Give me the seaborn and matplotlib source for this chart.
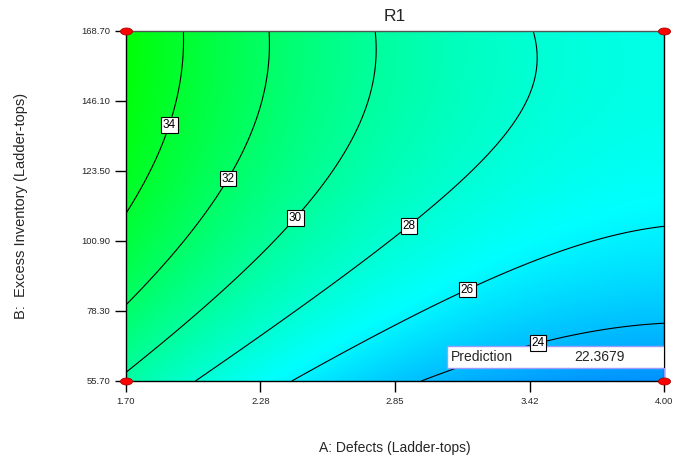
import matplotlib
matplotlib.use("Agg")
import matplotlib.pyplot as plt
import seaborn as sns
import numpy as np
import pandas as pd
from matplotlib.colors import LinearSegmentedColormap
from matplotlib.path import Path
from matplotlib.patches import Rectangle

# Quadratic response model for R1 in coded units
# terms: intercept, A, B, AB, A^2, B^2
coef_names = ["intercept", "A", "B", "AB", "A2", "B2"]
coef_values = [28.5161, -3.9109, 2.6710, -0.2402, 1.6972, -1.5028]

# Factor ranges
a_low, a_high = 1.70, 4.00
b_low, b_high = 55.70, 168.70

# Ticks and labels
a_ticks = [1.70, 2.275, 2.85, 3.425, 4.00]
a_tick_labels = ["1.70", "2.28", "2.85", "3.42", "4.00"]
b_ticks = [55.70, 78.30, 100.90, 123.50, 146.10, 168.70]
b_tick_labels = ["55.70", "78.30", "100.90", "123.50", "146.10", "168.70"]

# Contour levels and where their labels sit
levels = [24, 26, 28, 30, 32, 34]
label_a = [3.453, 3.154, 2.906, 2.418, 2.132, 1.875]
label_b = [70.3, 86.05, 106.1, 108.65, 121.2, 138.7]

# Design points (corners) and the prediction flag
design_a = [1.70, 4.00, 1.70, 4.00]
design_b = [55.70, 55.70, 168.70, 168.70]
pred_a, pred_b, pred_value = 4.00, 55.70, "22.3679"

# Evaluate the model on a grid
coef = dict(zip(coef_names, coef_values))
A = np.linspace(a_low, a_high, 300)
B = np.linspace(b_low, b_high, 300)
AA, BB = np.meshgrid(A, B)
ca = (AA - (a_low + a_high) / 2) / ((a_high - a_low) / 2)
cb = (BB - (b_low + b_high) / 2) / ((b_high - b_low) / 2)
Z = (coef["intercept"] + coef["A"] * ca + coef["B"] * cb + coef["AB"] * ca * cb
     + coef["A2"] * ca ** 2 + coef["B2"] * cb ** 2)

sns.set_theme(style="white")
plt.rcParams['font.family'] = ['Liberation Sans', 'DejaVu Sans']

fig = plt.figure(figsize=(6.85, 4.59), dpi=100)
ax = fig.add_axes([126/685, 78/459, 538/685, 350/459])

# Design-Expert like colour ramp: blue -> cyan -> green
cmap = LinearSegmentedColormap.from_list("de", ["#0000ff", "#00ffff", "#00ff00"])
ax.pcolormesh(AA, BB, Z, cmap=cmap, vmin=17, vmax=35.8, shading="gouraud", zorder=0)
cs = ax.contour(AA, BB, Z, levels=levels, colors="black", linewidths=0.8, zorder=1)
texts = ax.clabel(cs, levels=levels, fmt="%d", fontsize=8.5, inline=True, inline_spacing=2,
                  manual=list(zip(label_a, label_b)))
for t in texts:
    t.set_rotation(0)
    t.set_zorder(7)
    t.set_bbox(dict(boxstyle="square,pad=0.15", fc="white", ec="black", lw=0.8))

# Prediction box
ax.add_patch(Rectangle((0.5967, 0.037), 0.4033, 0.063, transform=ax.transAxes,
                       fc="white", ec="#9b9bff", lw=1, zorder=4))
ax.plot([pred_a, pred_a], [pred_b, pred_b + 4.2], color="#9b9bff", lw=1, zorder=4, clip_on=False)
ax.text(0.603, 0.0685, "Prediction", transform=ax.transAxes, fontsize=10,
        va="center", ha="left", zorder=5)
ax.text(0.834, 0.0685, pred_value, transform=ax.transAxes, fontsize=10,
        va="center", ha="left", zorder=5)

# Design points as red ellipses
theta = np.linspace(0, 2 * np.pi, 40)
ellipse = Path(np.column_stack([np.cos(theta), 0.58 * np.sin(theta)]))
df_pts = pd.DataFrame({"a": design_a, "b": design_b})
sns.scatterplot(data=df_pts, x="a", y="b", ax=ax, marker=ellipse, s=75,
                color="#ff0000", edgecolor="#aa0000", linewidth=0.6,
                clip_on=False, zorder=6, legend=False)

ax.set_xlim(a_low, a_high)
ax.set_ylim(b_low, b_high)
ax.set_xticks(a_ticks)
ax.set_xticklabels(a_tick_labels)
ax.set_yticks(b_ticks)
ax.set_yticklabels(b_tick_labels)
ax.tick_params(axis="both", direction="out", length=8, width=1, color="black",
               labelsize=6.8, pad=3.5, bottom=True, left=True)

for side in ["left", "bottom", "right"]:
    ax.spines[side].set_color("black")
    ax.spines[side].set_linewidth(1)
ax.spines["top"].set_color("#555555")
ax.spines["top"].set_linewidth(1)

ax.set_title("R1", fontsize=12.5, pad=7)
ax.set_xlabel("A: Defects (Ladder-tops)", fontsize=10)
ax.set_ylabel("B:  Excess Inventory (Ladder-tops)", fontsize=10.5)
ax.xaxis.set_label_coords(0.5, -0.171)
ax.yaxis.set_label_coords(-0.182, 0.5)

fig.savefig("out.png", dpi=100)
